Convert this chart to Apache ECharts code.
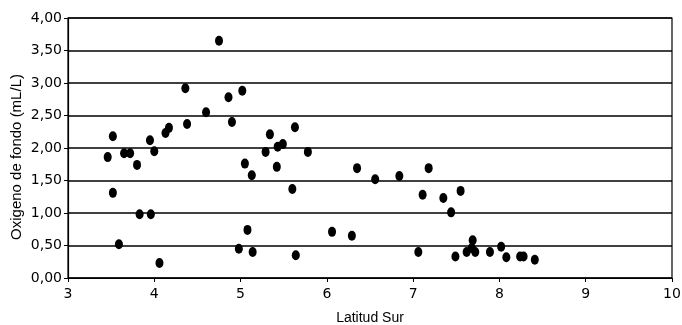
<!DOCTYPE html>
<html>
<head>
<meta charset="utf-8">
<script src="https://cdn.jsdelivr.net/npm/echarts@6/dist/echarts.min.js"></script>
<style>html,body{margin:0;padding:0;background:#fff}#c{width:682px;height:325px}</style>
</head>
<body>
<div id="c"></div>
<script>
var latitud = [3.46,3.52,3.52,3.59,3.65,3.72,3.80,3.83,3.95,3.96,4.00,4.06,4.13,4.17,4.36,4.38,4.60,4.75,4.86,4.90,4.98,5.02,5.05,5.08,5.13,5.14,5.29,5.34,5.42,5.43,5.49,5.60,5.63,5.64,5.78,6.06,6.29,6.35,6.56,6.84,7.06,7.11,7.18,7.35,7.44,7.49,7.55,7.62,7.68,7.69,7.72,7.89,8.02,8.08,8.24,8.28,8.41];
var oxigeno = [1.86,2.18,1.31,0.52,1.92,1.92,1.74,0.98,2.12,0.98,1.95,0.23,2.23,2.31,2.92,2.37,2.55,3.65,2.78,2.40,0.45,2.88,1.76,0.74,1.58,0.40,1.94,2.21,1.71,2.02,2.06,1.37,2.32,0.35,1.94,0.71,0.65,1.69,1.52,1.57,0.40,1.28,1.69,1.23,1.01,0.33,1.34,0.40,0.46,0.58,0.40,0.40,0.48,0.32,0.33,0.33,0.28];
var xTitle = 'Latitud Sur';
var yTitle = 'Oxigeno de fondo (mL/L)';
var xMin = 3, xMax = 10, xStep = 1;
var yMin = 0, yMax = 4, yStep = 0.5;

var pts = latitud.map(function (x, i) { return [x, oxigeno[i]]; });
var chart = echarts.init(document.getElementById('c'));
chart.setOption({
  animation: false,
  backgroundColor: '#fff',
  grid: { left: 68, right: 10, top: 18, bottom: 47, containLabel: false, outerBoundsMode: 'none',
    show: true, borderColor: '#000', borderWidth: 1.2, backgroundColor: 'transparent' },
  xAxis: {
    type: 'value', min: xMin, max: xMax, interval: xStep,
    name: xTitle, nameLocation: 'middle', nameGap: 33,
    nameTextStyle: { fontFamily: 'Liberation Sans', fontSize: 14, color: '#000' },
    axisLine: { show: true, lineStyle: { color: '#000', width: 1.2 } },
    axisTick: { show: true, length: 4, lineStyle: { color: '#000' } },
    axisLabel: { margin: 9, fontFamily: 'DejaVu Sans', fontSize: 14, color: '#000' },
    splitLine: { show: false }
  },
  yAxis: {
    type: 'value', min: yMin, max: yMax, interval: yStep,
    name: yTitle, nameLocation: 'middle', nameGap: 44, nameMoveOverlap: false,
    nameTextStyle: { fontFamily: 'Liberation Sans', fontSize: 15, color: '#000', padding: [0, 18, 0, 0] },
    axisLine: { show: true, lineStyle: { color: '#000', width: 1.2 } },
    axisTick: { show: true, length: 4, lineStyle: { color: '#000' } },
    axisLabel: { margin: 6, fontFamily: 'DejaVu Sans', fontSize: 14, color: '#000',
      formatter: function (v) { return v.toFixed(2).replace('.', ','); } },
    splitLine: { show: true, lineStyle: { color: '#000', width: 1.5 } }
  },
  series: [{
    type: 'scatter',
    data: pts,
    symbol: 'circle',
    symbolSize: [8, 10],
    itemStyle: { color: '#000', opacity: 1 }
  }]
});
</script>
</body>
</html>
